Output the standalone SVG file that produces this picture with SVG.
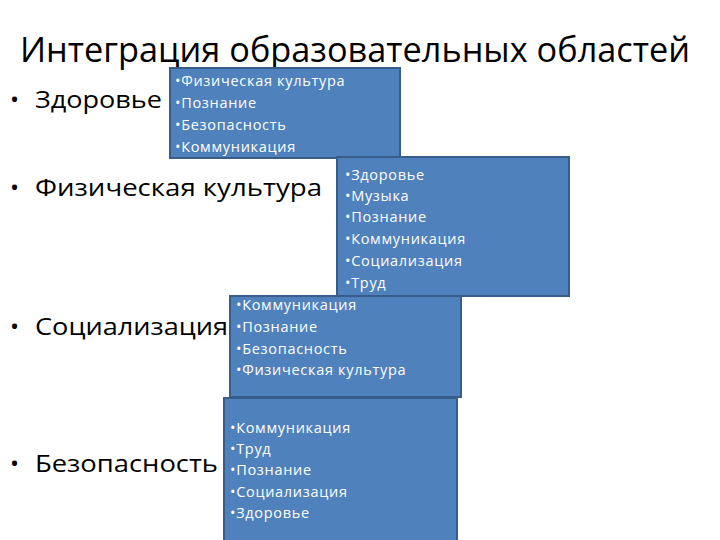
<svg xmlns="http://www.w3.org/2000/svg" width="720" height="540" viewBox="0 0 720 540">
<style>
.title{font-family:"Open Sans","Liberation Sans",sans-serif;font-size:34px;fill:#000}
.item{font-family:"Open Sans","Liberation Sans",sans-serif;font-size:24px;fill:#000}
.box{fill:#4f81bd;stroke:#385d8a;stroke-width:2}
.bt{font-family:"Open Sans","Liberation Sans",sans-serif;font-size:14.5px;letter-spacing:0.7px;fill:#fff}
</style>
<rect width="720" height="540" fill="#fff"/>
<text class="title" x="20" y="62" textLength="670" lengthAdjust="spacingAndGlyphs">Интеграция образовательных областей</text>
<g id="left-items">
<text class="item" x="10" y="108">•</text><text class="item" x="35" y="108" textLength="127" lengthAdjust="spacingAndGlyphs">Здоровье</text>
<text class="item" x="10" y="196">•</text><text class="item" x="35" y="196" textLength="287" lengthAdjust="spacingAndGlyphs">Физическая культура</text>
<text class="item" x="10" y="335">•</text><text class="item" x="35" y="335" textLength="193" lengthAdjust="spacingAndGlyphs">Социализация</text>
<text class="item" x="10" y="472">•</text><text class="item" x="35" y="472" textLength="183" lengthAdjust="spacingAndGlyphs">Безопасность</text>
</g>
<g id="box1">
<rect class="box" x="170" y="68" width="230" height="90"/>
<text class="bt" x="175" y="86">•Физическая культура</text>
<text class="bt" x="175" y="108">•Познание</text>
<text class="bt" x="175" y="130">•Безопасность</text>
<text class="bt" x="175" y="152">•Коммуникация</text>
</g>
<g id="box4">
<rect class="box" x="224" y="398" width="233" height="145"/>
<text class="bt" x="230" y="433">•Коммуникация</text>
<text class="bt" x="230" y="454">•Труд</text>
<text class="bt" x="230" y="475">•Познание</text>
<text class="bt" x="230" y="497">•Социализация</text>
<text class="bt" x="230" y="518">•Здоровье</text>
</g>
<g id="box3">
<rect class="box" x="230" y="296" width="231" height="101"/>
<text class="bt" x="236" y="310">•Коммуникация</text>
<text class="bt" x="236" y="332">•Познание</text>
<text class="bt" x="236" y="354">•Безопасность</text>
<text class="bt" x="236" y="375">•Физическая культура</text>
</g>
<g id="box2">
<rect class="box" x="337" y="157" width="232" height="139"/>
<text class="bt" x="345" y="180">•Здоровье</text>
<text class="bt" x="345" y="201">•Музыка</text>
<text class="bt" x="345" y="222">•Познание</text>
<text class="bt" x="345" y="244">•Коммуникация</text>
<text class="bt" x="345" y="266">•Социализация</text>
<text class="bt" x="345" y="288">•Труд</text>
</g>
<g id="connectors"></g>
</svg>
